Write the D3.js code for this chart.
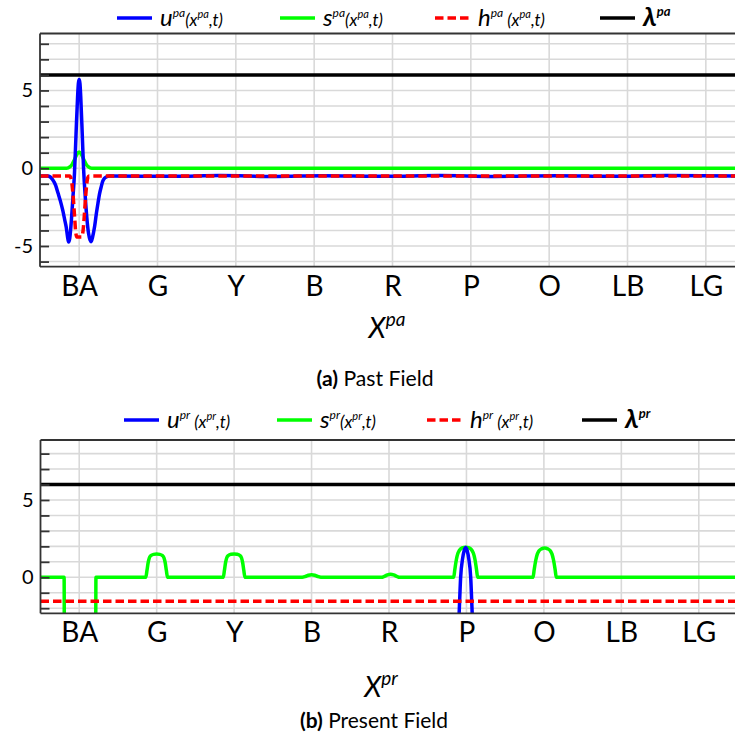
<!DOCTYPE html>
<html>
<head>
<meta charset="utf-8">
<script src="https://cdn.jsdelivr.net/npm/d3@7"></script>
<style>
  body { margin: 0; background: #fff; }
  svg text { font-family: Lato, "Open Sans", "DejaVu Sans", sans-serif; fill: #000; }
</style>
</head>
<body>
<svg id="chart" width="735" height="736"></svg>
<script>
// Colour-coded positions along the field (x in category units, BA = 0)
const categories = ["BA", "G", "Y", "B", "R", "P", "O", "LB", "LG"];

// Past field
const pastU = [
  [-0.5, -0.5], [-0.4, -0.5], [-0.34, -0.72], [-0.3, -1.1], [-0.27, -1.6], [-0.24, -2.1],
  [-0.21, -2.7], [-0.185, -3.3], [-0.165, -3.8], [-0.15, -4.35], [-0.135, -4.75],
  [-0.12, -4.5], [-0.1, -3.4], [-0.08, -1.9], [-0.06, -0.35], [-0.04, 2.2], [-0.02, 4.6],
  [-0.01, 5.45], [0, 5.7], [0.01, 5.45], [0.02, 4.6], [0.04, 2.1], [0.056, 0],
  [0.08, -2.0], [0.1, -3.3], [0.12, -4.2], [0.14, -4.62], [0.153, -4.72], [0.17, -4.45],
  [0.197, -3.75], [0.22, -2.9], [0.24, -2.25], [0.26, -1.65], [0.282, -1.18], [0.3, -0.85],
  [0.325, -0.64], [0.36, -0.53], [0.39, -0.5], [1.2, -0.52], [1.8, -0.47], [2.5, -0.53],
  [3.1, -0.48], [3.9, -0.52], [4.6, -0.47], [5.3, -0.53], [6.1, -0.48], [6.8, -0.52],
  [7.5, -0.47], [8.5, -0.5]
];
const pastS = [
  [-0.5, 0], [-0.16, 0], [-0.12, 0.08], [-0.09, 0.25], [-0.06, 0.55], [-0.03, 0.88],
  [0, 1.05], [0.03, 0.88], [0.06, 0.55], [0.09, 0.25], [0.12, 0.08], [0.16, 0], [8.5, 0]
];
const pastH = [
  [-0.5, -0.5], [-0.12, -0.5], [-0.1, -0.75], [-0.08, -1.6], [-0.06, -3.0], [-0.045, -4.05],
  [-0.03, -4.42], [0.03, -4.42], [0.05, -4.0], [0.065, -3.1], [0.08, -2.0], [0.095, -1.1],
  [0.11, -0.6], [0.125, -0.5], [8.5, -0.5]
];
const pastLambda = [[-0.5, 6], [8.5, 6]];

// Present field
const presentU = [
  [-0.5, -8], [4.87, -8], [4.895, -3.6], [4.906, -2.3], [4.925, 0], [4.95, 1.2],
  [4.97, 1.72], [4.99, 1.93], [5.01, 1.72], [5.03, 1.2], [5.055, 0], [5.074, -2.3],
  [5.085, -3.6], [5.11, -8], [8.5, -8]
];
const presentS = [
  [-0.5, 0], [-0.195, 0], [-0.19, -8], [0.21, -8], [0.216, 0],
  [0.86, 0], [0.875, 0.45], [0.89, 0.95], [0.905, 1.25], [0.925, 1.4], [0.96, 1.48], [1.0, 1.5],
  [1.04, 1.48], [1.075, 1.4], [1.095, 1.25], [1.11, 0.95], [1.125, 0.45], [1.14, 0],
  [1.86, 0], [1.875, 0.45], [1.89, 0.96], [1.905, 1.26], [1.925, 1.41], [1.96, 1.49], [2.0, 1.51],
  [2.04, 1.49], [2.075, 1.41], [2.095, 1.26], [2.11, 0.96], [2.125, 0.45], [2.14, 0],
  [2.88, 0], [2.92, 0.05], [2.96, 0.13], [3.0, 0.16], [3.04, 0.13], [3.08, 0.05], [3.12, 0],
  [3.9, 0], [3.94, 0.06], [3.98, 0.16], [4.02, 0.2], [4.06, 0.16], [4.1, 0.06], [4.14, 0],
  [4.835, 0], [4.85, 0.5], [4.87, 1.15], [4.89, 1.55], [4.91, 1.75], [4.945, 1.9], [4.99, 1.95],
  [5.035, 1.9], [5.07, 1.75], [5.09, 1.55], [5.11, 1.15], [5.13, 0.5], [5.145, 0],
  [5.86, 0], [5.875, 0.5], [5.895, 1.1], [5.915, 1.5], [5.935, 1.7], [5.97, 1.84], [6.01, 1.89],
  [6.05, 1.84], [6.085, 1.7], [6.105, 1.5], [6.125, 1.1], [6.145, 0.5], [6.16, 0],
  [8.5, 0]
];
const presentH = [[-0.5, -1.55], [8.5, -1.55]];
const presentLambda = [[-0.5, 6], [8.5, 6]];

const pastYLabels = [-5, 0, 5];
const presentYLabels = [0, 5];

const colors = { u: "#0000ff", s: "#00ff00", h: "#ff0000", lambda: "#000000" };

const svg = d3.select("#chart");

// Rich text helper: parts = [text, size, raise, italic, bold]
function richText(g, x, y, parts, anchor) {
  const t = g.append("text").attr("x", x).attr("y", y).attr("text-anchor", anchor || "start");
  let prev = 0;
  parts.forEach(([str, size, raise, italic, bold]) => {
    t.append("tspan")
      .attr("dy", prev - raise)
      .attr("font-size", size)
      .attr("font-style", italic ? "italic" : "normal")
      .attr("font-weight", bold ? "bold" : "normal")
      .text(str);
    prev = raise;
  });
  return t;
}

function drawPanel(cfg) {
  const g = svg.append("g");
  const x = d3.scaleLinear().domain([-0.5, 8.5]).range(cfg.xRange);
  const y = d3.scaleLinear().domain(cfg.yDomain).range(cfg.yRange);
  const [x0, x1] = cfg.xRange;
  const [yb, yt] = cfg.yRange;

  const clipId = "clip-" + cfg.key;
  g.append("clipPath").attr("id", clipId)
    .append("rect").attr("x", x0).attr("y", yt).attr("width", x1 - x0).attr("height", yb - yt);

  // grid
  const yInts = d3.range(Math.ceil(cfg.yDomain[0]), Math.floor(cfg.yDomain[1]) + 1);
  const grid = g.append("g").attr("stroke", "#d9d9d9").attr("stroke-width", 1.6);
  grid.selectAll("line.h").data(yInts).join("line")
    .attr("x1", x0).attr("x2", x1).attr("y1", d => y(d)).attr("y2", d => y(d));
  grid.selectAll("line.v").data(d3.range(categories.length)).join("line")
    .attr("x1", d => x(d)).attr("x2", d => x(d)).attr("y1", yt).attr("y2", yb);

  // series
  const line = d3.line().x(d => x(d[0])).y(d => y(d[1])).curve(d3.curveMonotoneX);
  const plot = g.append("g").attr("clip-path", `url(#${clipId})`).attr("fill", "none")
    .attr("stroke-linejoin", "round");
  plot.append("path").attr("d", line(cfg.s)).attr("stroke", colors.s).attr("stroke-width", 3.5);
  plot.append("path").attr("d", line(cfg.u)).attr("stroke", colors.u).attr("stroke-width", 3.5);
  plot.append("path").attr("d", line(cfg.h)).attr("stroke", colors.h).attr("stroke-width", 3.5)
    .attr("stroke-dasharray", "8.5,4");
  plot.append("path").attr("d", line(cfg.lambda)).attr("stroke", colors.lambda).attr("stroke-width", 3.5);

  // frame
  const frame = g.append("g").attr("stroke", "#333").attr("stroke-width", 1.8).attr("fill", "none");
  frame.append("line").attr("x1", x0).attr("x2", x1).attr("y1", yt).attr("y2", yt);
  frame.append("line").attr("x1", x0).attr("x2", x1).attr("y1", yb).attr("y2", yb);
  frame.append("line").attr("x1", x0).attr("x2", x0).attr("y1", yt).attr("y2", yb);

  // inward ticks on every integer
  const ticks = g.append("g").attr("transform", `translate(${x0},0)`)
    .call(d3.axisRight(y).tickValues(yInts).tickSize(9).tickFormat(""));
  ticks.select(".domain").remove();
  ticks.selectAll("line").attr("stroke", "#333").attr("stroke-width", 1.8);

  // y labels
  const yl = g.append("g").attr("transform", `translate(${x0},0)`)
    .call(d3.axisLeft(y).tickValues(cfg.yLabels).tickSize(0).tickPadding(7).tickFormat(d => d < 0 ? "-" + (-d) : d));
  yl.select(".domain").remove();
  yl.selectAll("text").attr("font-size", 20).style("font-family", "Lato, sans-serif");

  // x labels
  const xl = g.append("g").attr("transform", `translate(0,${yb})`)
    .call(d3.axisBottom(x).tickValues(d3.range(categories.length)).tickSize(0).tickPadding(9)
      .tickFormat(i => categories[i]));
  xl.select(".domain").remove();
  xl.selectAll("text").attr("font-size", 28).style("font-family", "Lato, sans-serif");

  // axis title
  richText(g, cfg.titleX, cfg.titleY, [["X", 28, 0, true], [cfg.sup, 19, 12, true]], "middle");

  // caption
  const cap = g.append("text").attr("x", cfg.captionX).attr("y", cfg.captionY)
    .attr("text-anchor", "middle").attr("font-size", 21)
    .attr("textLength", cfg.captionLen).attr("lengthAdjust", "spacingAndGlyphs");
  cap.append("tspan").attr("font-weight", "bold").text(cfg.captionTag);
  cap.append("tspan").text(" " + cfg.caption);

  // legend
  const lg = g.append("g");
  const sp = cfg.sup;
  const items = [
    { c: colors.u, dash: null, lx: cfg.legend[0], parts: [["u", 24, 0, true], [sp, 12, 9, true], [cfg.gap ? " (x" : "(x", 17, 0, true], [sp, 11, 8, true], [",t)", 17, 0, true]] },
    { c: colors.s, dash: null, lx: cfg.legend[1], parts: [["s", 24, 0, true], [sp, 12, 9, true], ["(x", 17, 0, true], [sp, 11, 8, true], [",t)", 17, 0, true]] },
    { c: colors.h, dash: "8.5,4", lx: cfg.legend[2], parts: [["h", 24, 0, true], [sp, 12, 9, true], [" (x", 17, 0, true], [sp, 11, 8, true], [",t)", 17, 0, true]] },
    { c: colors.lambda, dash: null, lx: cfg.legend[3], parts: [["λ", 27, 0, true, true], [sp, 13, 10, true, true]] }
  ];
  items.forEach(it => {
    lg.append("line").attr("x1", it.lx).attr("x2", it.lx + 35)
      .attr("y1", cfg.legendY).attr("y2", cfg.legendY)
      .attr("stroke", it.c).attr("stroke-width", 3.5)
      .attr("stroke-dasharray", it.dash);
    richText(lg, it.lx + 43, cfg.legendY + 8, it.parts);
  });
}

drawPanel({
  key: "pa", sup: "pa", gap: false,
  xRange: [40, 745], yDomain: [-6.33, 8.66], yRange: [266.7, 33.5],
  u: pastU, s: pastS, h: pastH, lambda: pastLambda, yLabels: pastYLabels,
  titleX: 387, titleY: 338, captionX: 375, captionY: 386, captionLen: 117,
  captionTag: "(a)", caption: "Past Field",
  legendY: 18, legend: [117, 280, 435, 600]
});

drawPanel({
  key: "pr", sup: "pr", gap: true,
  xRange: [40.5, 737.5], yDomain: [-2.33, 8.88], yRange: [613.3, 440],
  u: presentU, s: presentS, h: presentH, lambda: presentLambda, yLabels: presentYLabels,
  titleX: 381, titleY: 697, captionX: 374, captionY: 728, captionLen: 148,
  captionTag: "(b)", caption: "Present Field",
  legendY: 420, legend: [124, 277, 427, 582]
});
</script>
</body>
</html>
